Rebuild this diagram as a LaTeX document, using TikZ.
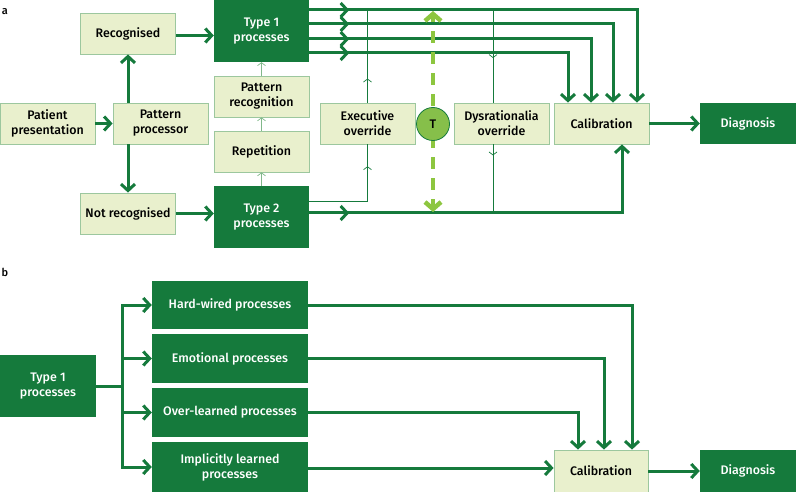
\documentclass[tikz,border=0pt]{standalone}
\usepackage{fontspec}
\setmainfont{Fira Sans}[BoldFont={Fira Sans Medium}]
\usetikzlibrary{positioning,arrows.meta,decorations.markings}

\definecolor{darkgrn}{HTML}{157A3C}
\definecolor{palegrn}{HTML}{E9F0CD}
\definecolor{edgegrn}{HTML}{9CC79E}
\definecolor{limegrn}{HTML}{8DC63F}
\definecolor{dotgrn}{HTML}{86BF4A}

\tikzset{
  lightbox/.style={draw=edgegrn, fill=palegrn, line width=0.8pt, minimum width=95pt,
    minimum height=41pt, align=center, inner sep=0pt, font=\bfseries\fontsize{12.4}{15}\selectfont},
  darkbox/.style={fill=darkgrn, text=white, minimum width=95pt, minimum height=41pt,
    align=center, inner sep=0pt, font=\bfseries\fontsize{12.4}{15}\selectfont},
  thk/.style={draw=darkgrn, line width=3pt, -{Straight Barb[length=6.5pt,width=14pt]}},
  thkline/.style={draw=darkgrn, line width=3pt},
  thn/.style={draw=darkgrn, line width=0.7pt},
  pale/.style={draw=edgegrn!80!darkgrn, line width=0.7pt, -{Straight Barb[length=3pt,width=8pt]}},
  midtip/.style={postaction={decorate}, decoration={markings,
    mark=at position #1 with {\arrow{Straight Barb[length=6.5pt,width=14pt]}}}},
  thinmid/.style={postaction={decorate}, decoration={markings,
    mark=at position #1 with {\arrow{Straight Barb[length=3pt,width=8pt]}}}},
  panel/.style={font=\bfseries\fontsize{11}{12}\selectfont, inner sep=0pt},
}

\begin{document}
\begin{tikzpicture}[x=1pt, y=-1pt]
  \useasboundingbox (0,0) rectangle (796,492);

  \node[panel] (lbla) at (5,12) {a};
  \node[lightbox] (pres) at (47.5,123.5) {Patient\\presentation};
  \node[lightbox] (pproc) at (160.5,123.5) {Pattern\\processor};
  \node[lightbox] (recog) at (128,33.5) {Recognised};
  \node[lightbox] (notrec) at (128,213.5) {Not recognised};
  \node[darkbox, minimum height=62pt] (typeA) at (261.5,31) {Type 1\\processes};
  \node[lightbox] (patrec) at (261.5,96.5) {Pattern\\recognition};
  \node[lightbox] (rep) at (261.5,151.5) {Repetition};
  \node[darkbox, minimum height=62pt] (typeB) at (261.5,217) {Type 2\\processes};
  \node[lightbox] (exec) at (367.5,123.5) {Executive\\override};
  \node[lightbox] (dysr) at (501.5,123.5) {Dysrationalia\\override};
  \node[lightbox] (calA) at (601.5,123.5) {Calibration};
  \node[darkbox, minimum width=96pt] (diagA) at (748,123.5) {Diagnosis};

  \coordinate (etop) at (367.5,10);
  \coordinate (dtop) at (493,10);
  \coordinate (dbot) at (493,213);
  \coordinate (ttop) at (433,11);
  \coordinate (tbot) at (433,212);

  \draw[thk] (pres) -- (pproc);
  \draw[thk] (pproc.north -| recog.south) -- (recog.south);
  \draw[thk] (pproc.south -| notrec.north) -- (notrec.north);
  \draw[thk] ([yshift=-2pt]recog.east) -- ([yshift=-2pt]recog.east -| typeA.west);
  \draw[thk] (notrec.east) -- (notrec.east -| typeB.west);

  \draw[pale] (typeB.north) -- (rep.south);
  \draw[pale] (rep.north) -- (patrec.south);
  \draw[pale] (patrec.north) -- (typeA.south);

  \draw[thn, thinmid=93pt] ([yshift=16pt]typeB.east) -| (exec.south);
  \draw[thn, thinmid=24pt] (exec.north) -- (etop);
  \draw[thn, thinmid=48pt] (dtop) -- (dtop |- dysr.north);
  \draw[thn, thinmid=11pt] (dysr.south -| dtop) -- (dbot);

  \foreach \dy/\xx in {21/637, 7/613, -8/591, -22/568}
    \draw[thk, midtip=40pt] ([yshift=\dy pt]typeA.east) -| (calA.north -| \xx,0);
  \draw[thk, midtip=40pt] ([yshift=4pt]typeB.east) -| (calA.south -| 622,0);
  \draw[thk] (calA) -- (diagA);

  \draw[limegrn, line width=4.5pt, dash pattern=on 12pt off 9pt, dash phase=4pt,
    {Straight Barb[length=7pt,width=16pt]}-{Straight Barb[length=7pt,width=16pt]}] (tbot) -- (ttop);
  \node[circle, draw=darkgrn, fill=dotgrn, line width=0.8pt, minimum size=33pt, inner sep=0pt,
    font=\bfseries\fontsize{12.4}{15}\selectfont] (tnode) at (433,124) {T};

  \node[panel] (lblb) at (5,272) {b};
  \node[darkbox, minimum width=96pt, minimum height=62pt] (typeC) at (48,386) {Type 1\\processes};
  \node[darkbox, minimum width=156pt, minimum height=48pt] (hard) at (230,305) {Hard-wired processes};
  \node[darkbox, minimum width=156pt, minimum height=49pt] (emo) at (230,358.5) {Emotional processes};
  \node[darkbox, minimum width=156pt, minimum height=49pt] (over) at (230,412.5) {Over-learned processes};
  \node[darkbox, minimum width=156pt, minimum height=50pt] (impl) at (230,467) {Implicitly learned\\processes};
  \node[lightbox, minimum width=94pt, minimum height=42pt] (calB) at (601,471) {Calibration};
  \node[darkbox, minimum width=96pt, minimum height=42pt] (diagB) at (748,471) {Diagnosis};

  \coordinate (split) at (122,386);
  \draw[thkline] (typeC.east |- split) -- (split);
  \foreach \blk in {hard, emo, over, impl}
    \draw[thk] (split) |- (\blk.west);
  \draw[thk] (hard.east) -| (calB.north -| 632,0);
  \draw[thk] (emo.east) -| (calB.north -| 604,0);
  \draw[thk] (over.east) -| (calB.north -| 578,0);
  \draw[thk] ([yshift=-1pt]impl.east) -- ([yshift=-1pt]impl.east -| calB.west);
  \draw[thk] (calB) -- (diagB);
\end{tikzpicture}
\end{document}
